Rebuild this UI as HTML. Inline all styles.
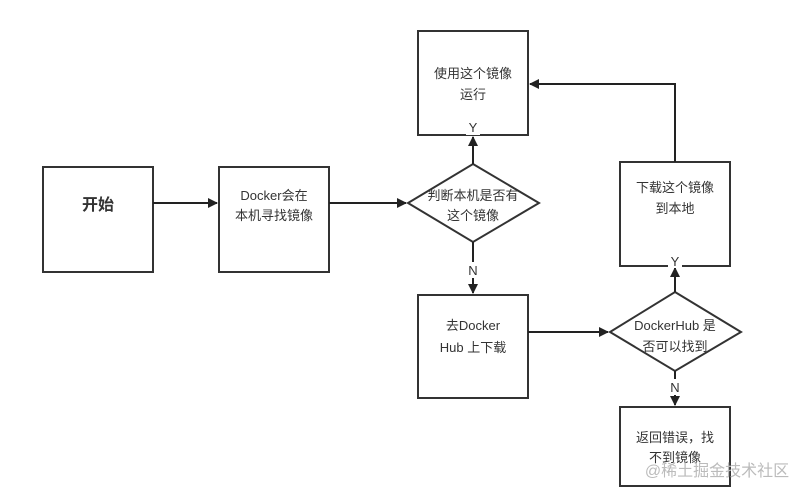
<!DOCTYPE html>
<html><head><meta charset="utf-8"><style>
body{margin:0;background:#fff;}
svg text{font-family:"Liberation Sans","Noto Sans CJK SC",sans-serif;fill:#333;}
</style></head><body>
<svg width="798" height="488" viewBox="0 0 798 488" xmlns="http://www.w3.org/2000/svg">
<defs><marker id="a" markerWidth="10" markerHeight="10" refX="9" refY="5" orient="auto" markerUnits="userSpaceOnUse"><path d="M0,0 L10,5 L0,10 z" fill="#222"/></marker></defs>
<g fill="#fff" stroke="#333" stroke-width="2">
<rect x="43" y="167" width="110" height="105"/>
<rect x="219" y="167" width="110" height="105"/>
<rect x="418" y="31" width="110" height="104"/>
<rect x="620" y="162" width="110" height="104"/>
<rect x="418" y="295" width="110" height="103"/>
<rect x="620" y="407" width="110" height="79"/>
<polygon points="473,164 539,203 473,242 408,203"/>
<polygon points="675,292 741,332 675,371 610,332"/>
</g>
<g stroke="#222" stroke-width="2" fill="none" marker-end="url(#a)">
<line x1="153" y1="203" x2="217" y2="203"/>
<line x1="329" y1="203" x2="406" y2="203"/>
<line x1="473" y1="164" x2="473" y2="137"/>
<line x1="473" y1="242" x2="473" y2="293"/>
<line x1="528" y1="332" x2="608" y2="332"/>
<line x1="675" y1="292" x2="675" y2="268"/>
<line x1="675" y1="371" x2="675" y2="405"/>
<path d="M675,162 V84 H530"/>
</g>
<g fill="#fff">
<rect x="466" y="119" width="14" height="16"/>
<rect x="466" y="262" width="14" height="16"/>
<rect x="668" y="254" width="14" height="14"/>
<rect x="668" y="379" width="14" height="16"/>
</g>
<g font-size="13" text-anchor="middle">
<text x="98" y="210" font-size="16" font-weight="bold">开始</text>
<text x="274" y="200">Docker会在</text>
<text x="274" y="220">本机寻找镜像</text>
<text x="473" y="78">使用这个镜像</text>
<text x="473" y="99">运行</text>
<text x="473" y="200">判断本机是否有</text>
<text x="473" y="220">这个镜像</text>
<text x="473" y="132">Y</text>
<text x="473" y="275">N</text>
<text x="473" y="330">去Docker</text>
<text x="473" y="352">Hub 上下载</text>
<text x="675" y="330">DockerHub 是</text>
<text x="675" y="351">否可以找到</text>
<text x="675" y="266">Y</text>
<text x="675" y="392">N</text>
<text x="675" y="192">下载这个镜像</text>
<text x="675" y="213">到本地</text>
<text x="675" y="442">返回错误，找</text>
<text x="675" y="462">不到镜像</text>
<text x="717" y="476" font-size="16" style="fill:#bbb">@稀土掘金技术社区</text>
</g>
</svg>
</body></html>
